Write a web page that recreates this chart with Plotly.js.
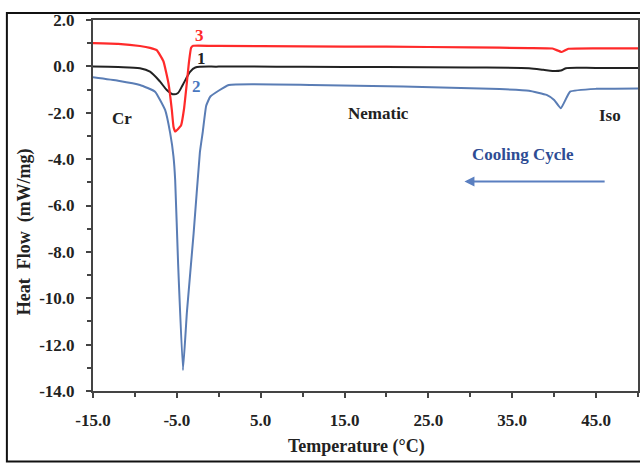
<!DOCTYPE html>
<html>
<head>
<meta charset="utf-8">
<script src="https://cdn.plot.ly/plotly-3.0.1.min.js"></script>
<style>html,body{margin:0;padding:0;background:#fff;}#chart{width:640px;height:464px;}</style>
</head>
<body>
<div id="chart"></div>
<script>
// ---- data ----
const curve1Temp = [-15, -12, -9.4, -8.2, -7.0, -6.2, -5.5, -4.9, -4.3, -3.4, -2.8, 0, 10, 20, 30, 37, 38.7, 39.8, 40.8, 41.4, 45, 50];
const curve1Flow = [-0.01, -0.03, -0.08, -0.23, -0.66, -1.02, -1.2, -1.16, -0.8, -0.23, -0.05, -0.01, -0.02, -0.03, -0.05, -0.08, -0.15, -0.2, -0.18, -0.08, -0.07, -0.07];

const curve2Temp = [-15, -12, -9.4, -7.6, -6.4, -5.8, -5.4, -5.2, -4.85, -4.27, -3.8, -3.0, -2.25, -1.9, -1.5, -1.0, 1.2, 11, 22, 33.5, 37, 39.1, 40.0, 40.8, 41.9, 45, 50];
const curve2Flow = [-0.47, -0.62, -0.8, -1.09, -1.88, -2.87, -3.89, -4.9, -8.5, -13.1, -10.6, -7.2, -3.7, -2.8, -1.7, -1.3, -0.8, -0.8, -0.87, -0.98, -1.05, -1.23, -1.45, -1.81, -1.09, -0.97, -0.95];

const curve3Temp = [-15, -12, -9.4, -8.2, -7.4, -6.6, -6.0, -5.6, -5.4, -5.2, -4.5, -4.15, -3.85, -3.55, -3.3, -3.05, 0, 10, 20, 30, 37, 39.8, 40.9, 41.7, 45, 50];
const curve3Flow = [1.0, 0.97, 0.88, 0.8, 0.7, 0.22, -0.73, -1.88, -2.6, -2.81, -2.55, -1.85, -0.85, 0.2, 0.8, 0.89, 0.88, 0.86, 0.85, 0.82, 0.79, 0.77, 0.62, 0.76, 0.78, 0.78];

const xTickVals = [-15, -5, 5, 15, 25, 35, 45];
const xTickLabels = ['-15.0', '-5.0', '5.0', '15.0', '25.0', '35.0', '45.0'];
const yTickVals = [2, 0, -2, -4, -6, -8, -10, -12, -14];
const yTickLabels = ['2.0', '0.0', '-2.0', '-4.0', '-6.0', '-8.0', '-10.0', '-12.0', '-14.0'];

const curveLabels = ['1', '2', '3'];
const phaseLabels = ['Cr', 'Nematic', 'Iso'];
const xTitle = 'Temperature (°C)';
const yTitle = 'Heat\u00a0\u00a0Flow\u00a0\u00a0(mW/mg)';
const cycleLabel = 'Cooling Cycle';

// ---- styling ----
const SERIF = 'Liberation Serif, Times New Roman, serif';
const axisColor = '#444';
const col1 = '#222222', col2 = '#5a7db5', col3 = '#ff2a2a';

const traces = [
  {x: curve1Temp, y: curve1Flow, mode: 'lines', line: {color: col1, width: 2, shape: 'spline', smoothing: 0.8}, hoverinfo: 'skip'},
  {x: curve2Temp, y: curve2Flow, mode: 'lines', line: {color: col2, width: 2, shape: 'spline', smoothing: 0.35}, hoverinfo: 'skip'},
  {x: curve3Temp, y: curve3Flow, mode: 'lines', line: {color: col3, width: 2.2, shape: 'spline', smoothing: 0.35}, hoverinfo: 'skip'}
];

const tickFont = {family: SERIF, size: 17, weight: 700, color: '#222'};
const textFont = (size, color) => ({family: SERIF, size: size, weight: 700, color: color});

const layout = {
  width: 640, height: 464,
  margin: {l: 93, r: 2, t: 20, b: 73, pad: 0},
  paper_bgcolor: '#fff', plot_bgcolor: '#fff',
  showlegend: false,
  xaxis: {
    range: [-15, 50], tickmode: 'array', tickvals: xTickVals, ticktext: xTickLabels,
    ticks: 'outside', ticklen: 5, tickwidth: 2, tickcolor: axisColor,
    showline: true, linewidth: 2, linecolor: axisColor, mirror: true,
    showgrid: false, zeroline: false, tickfont: tickFont, ticklabelstandoff: 8,
    minor: {ticks: 'outside', tick0: -10, dtick: 10, ticklen: 4, tickwidth: 2, tickcolor: axisColor, showgrid: false}
  },
  yaxis: {
    range: [-14, 2], tickmode: 'array', tickvals: yTickVals, ticktext: yTickLabels,
    ticks: 'outside', ticklen: 5, tickwidth: 2, tickcolor: axisColor,
    showline: true, linewidth: 2, linecolor: axisColor, mirror: true,
    showgrid: false, zeroline: false, tickfont: tickFont, ticklabelstandoff: 8,
    minor: {ticks: 'outside', tick0: -13, dtick: 2, ticklen: 4, tickwidth: 2, tickcolor: axisColor, showgrid: false}
  },
  shapes: [
    {type: 'rect', xref: 'paper', yref: 'paper', x0: -0.158, x1: 1.02, y0: -0.19, y1: 1.0189,
     line: {color: '#111', width: 2}, fillcolor: 'rgba(0,0,0,0)', layer: 'above'}
  ],
  annotations: [
    {xref: 'paper', yref: 'paper', x: 0.4826, y: -0.150, text: xTitle, showarrow: false, xanchor: 'center', yanchor: 'middle', font: textFont(18, '#222')},
    {xref: 'paper', yref: 'paper', x: -0.125, y: 0.43, text: yTitle, showarrow: false, textangle: -90, xanchor: 'center', yanchor: 'middle', font: textFont(18, '#222')},
    {x: -2.1, y: 0.35, text: curveLabels[0], showarrow: false, font: textFont(17, col1)},
    {x: -2.6, y: -0.87, text: curveLabels[1], showarrow: false, font: textFont(17, '#4a78c0')},
    {x: -2.24, y: 1.35, text: curveLabels[2], showarrow: false, font: textFont(17, col3)},
    {x: -11.58, y: -2.24, text: phaseLabels[0], showarrow: false, font: textFont(17, '#222')},
    {x: 19.03, y: -2.02, text: phaseLabels[1], showarrow: false, font: textFont(17, '#222')},
    {x: 46.66, y: -2.1, text: phaseLabels[2], showarrow: false, font: textFont(17, '#222')},
    {x: 36.32, y: -3.82, text: cycleLabel, showarrow: false, font: textFont(17, '#2e4c94')},
    {x: 29.3, y: -4.97, ax: 46.2, ay: -4.97, axref: 'x', ayref: 'y', text: '', showarrow: true,
     arrowhead: 2, arrowsize: 1, arrowwidth: 2, arrowcolor: '#5a7fc0'}
  ]
};

Plotly.newPlot('chart', traces, layout, {staticPlot: true, displayModeBar: false});
</script>
</body>
</html>
